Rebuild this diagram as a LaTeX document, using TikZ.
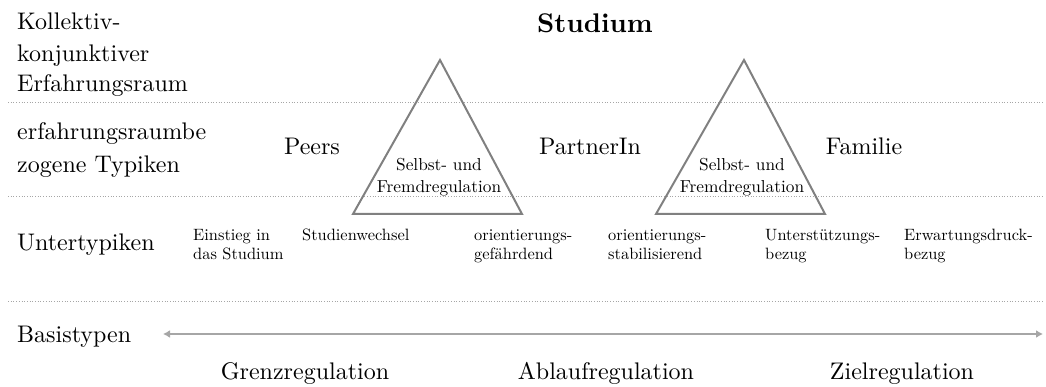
\documentclass[tikz,border=0pt]{standalone}
\usepackage{fontspec}
\setmainfont{lmroman10-regular.otf}[BoldFont=lmroman10-bold.otf]
\usetikzlibrary{arrows.meta}
\begin{document}
\begin{tikzpicture}[x=1pt,y=-1pt,
  big/.style={inner sep=0pt,font=\fontsize{24}{30}\selectfont},
  small/.style={inner sep=0pt,font=\fontsize{16.4}{20}\selectfont},
  tri/.style={inner sep=0pt,font=\fontsize{17.3}{21}\selectfont},
  sep/.style={draw=black!35,dotted,line width=0.7pt},
  triangle/.style={draw=black!50,line width=2pt,line join=miter},
  axis/.style={draw=black!35,line width=2.2pt,{Latex[length=7pt,width=8pt]}-{Latex[length=7pt,width=8pt]}}]
\useasboundingbox (0,0) rectangle (1046,387);
% separators
\coordinate (s1a) at (8,102); \coordinate (s1b) at (1044,102);
\coordinate (s2a) at (8,196); \coordinate (s2b) at (1044,196);
\coordinate (s3a) at (8,301); \coordinate (s3b) at (1044,301);
\draw[sep] (s1a) -- (s1b);
\draw[sep] (s2a) -- (s2b);
\draw[sep] (s3a) -- (s3b);
% title
\node[inner sep=0pt,anchor=base,font=\fontsize{27}{32}\selectfont\bfseries] (title) at (595,33) {Studium};
% left labels
\node[big,anchor=base west] (k1) at (17,30) {Kollektiv-};
\node[big,anchor=base west] (k2) at (17,62) {konjunktiver};
\node[big,anchor=base west] (k3) at (17,92) {Erfahrungsraum};
\node[big,anchor=base west] (e1) at (17,140) {erfahrungsraumbe};
\node[big,anchor=base west] (e2) at (17,173) {zogene Typiken};
\node[big,anchor=base west] (u1) at (17,251) {Untertypiken};
\node[big,anchor=base west] (b1) at (17,342) {Basistypen};
% triangles
\coordinate (t1a) at (440,60); \coordinate (t1b) at (353,214); \coordinate (t1c) at (522,214);
\coordinate (t2a) at (744,60); \coordinate (t2b) at (656,214); \coordinate (t2c) at (825,214);
\draw[triangle] (t1a) -- (t1b) -- (t1c) -- cycle;
\draw[triangle] (t2a) -- (t2b) -- (t2c) -- cycle;
\node[tri,anchor=base] (t1t1) at (439,171) {Selbst- und};
\node[tri,anchor=base] (t1t2) at (439,193) {Fremdregulation};
\node[tri,anchor=base] (t2t1) at (742,171) {Selbst- und};
\node[tri,anchor=base] (t2t2) at (742,193) {Fremdregulation};
% typiken
\node[big,anchor=base] (peers) at (312,155) {Peers};
\node[big,anchor=base] (partner) at (590,155) {PartnerIn};
\node[big,anchor=base] (familie) at (864,155) {Familie};
% untertypiken
\node[small,anchor=base west] (a1) at (193,241) {Einstieg in};
\node[small,anchor=base west] (a2) at (193,260) {das Studium};
\node[small,anchor=base west] (b) at (302,241) {Studienwechsel};
\node[small,anchor=base west] (c1) at (474,241) {orientierungs-};
\node[small,anchor=base west] (c2) at (474,260) {gefährdend};
\node[small,anchor=base west] (d1) at (608,241) {orientierungs-};
\node[small,anchor=base west] (d2) at (608,260) {stabilisierend};
\node[small,anchor=base west] (f1) at (765,241) {Unterstützungs-};
\node[small,anchor=base west] (f2) at (765,260) {bezug};
\node[small,anchor=base west] (g1) at (904,241) {Erwartungsdruck-};
\node[small,anchor=base west] (g2) at (904,260) {bezug};
% axis
\coordinate (axl) at (163,334); \coordinate (axr) at (1043,334);
\draw[axis] (axl) -- (axr);
\node[big,anchor=base] (grenz) at (305,379) {Grenzregulation};
\node[big,anchor=base] (ablauf) at (606,379) {Ablaufregulation};
\node[big,anchor=base] (ziel) at (902,379) {Zielregulation};
\end{tikzpicture}
\end{document}
